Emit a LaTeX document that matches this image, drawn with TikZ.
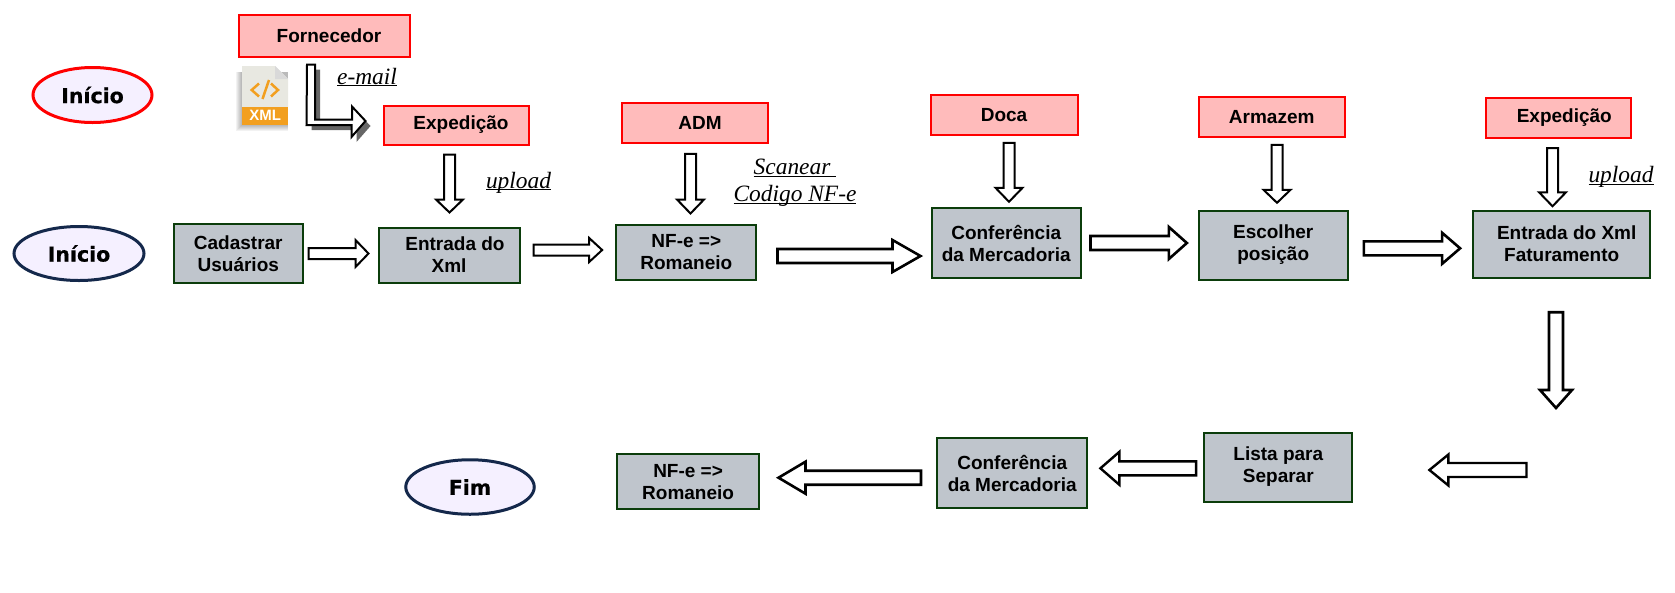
\documentclass[tikz,border=0pt]{standalone}
\usepackage{fontspec}
\setmainfont{Liberation Sans}
\newfontfamily\serifa{Liberation Serif}
\newfontfamily\largafonte[FakeBold=0.6]{DejaVu Sans Bold}
\usetikzlibrary{calc,shapes.geometric,shadows}
\definecolor{rosa}{HTML}{FFBBBB}
\definecolor{cinza}{HTML}{BFC5CC}
\definecolor{verdeborda}{HTML}{0B3D0B}
\definecolor{lilas}{HTML}{F5F0FF}
\definecolor{marinho}{HTML}{14284B}
\definecolor{laranja}{HTML}{F29F1F}
\definecolor{folha}{HTML}{E8E8E1}
\tikzset{
   setor/.style 2 args={draw=red, fill=rosa, line width=2pt, inner sep=0pt, align=center,
      minimum width=#1pt, minimum height=#2pt,
      font=\bfseries\fontsize{19}{22}\selectfont},
   etapa/.style 2 args={draw=verdeborda, fill=cinza, line width=2pt, inner sep=0pt, align=center,
      minimum width=#1pt, minimum height=#2pt,
      font=\bfseries\fontsize{19}{22}\selectfont},
   marco/.style 2 args={ellipse, draw=marinho, fill=lilas, line width=3pt, inner sep=0pt,
      minimum width=#1pt, minimum height=#2pt,
      font=\largafonte\fontsize{20.5}{24}\selectfont},
   rotulo/.style={inner sep=0pt, align=center,
      font=\serifa\itshape\fontsize{23.4}{26.7}\selectfont},
   seta/.style n args={3}{draw=black, fill=white, line width=2pt, to path={
      let \p1=(\tikztostart), \p2=(\tikztotarget),
          \n1={atan2(\y2-\y1,\x2-\x1)}, \n2={veclen(\x2-\x1,\y2-\y1)-#3pt} in
      ($(\p1)+(\n1+90:#1pt)$) -- ++(\n1:\n2) -- ++(\n1+90:#2pt-#1pt) -- (\p2)
      -- ($(\p2)+(\n1+180:#3pt)+(\n1-90:#2pt)$) -- ++(\n1+90:#2pt-#1pt)
      -- ($(\p1)+(\n1-90:#1pt)$) -- cycle}},
   setacurva/.style={draw=black, fill=white, line width=2pt,
      drop shadow={shadow xshift=5pt, shadow yshift=-5pt, fill=black!60, opacity=1}}
}
\begin{document}
\begin{tikzpicture}[x=1pt, y=-1pt]
   \useasboundingbox (0,0) rectangle (1675,592);

   \node[marco={119}{55}, draw=red] (ini1) at (92.5,95) {Início};
   \node[marco={130}{54}] (ini2) at (79,253.5) {Início};
   \node[marco={128.5}{54.5}] (fim) at (470,487) {Fim};

   \node[setor={171}{42}] (forn) at (324,35.5) {\hspace*{10pt}Fornecedor};
   \node[setor={145}{39}] (exp1) at (456,125) {\hspace*{10pt}Expedição};
   \node[setor={146}{39.6}] (adm) at (695,123) {\hspace*{10pt}ADM};
   \node[setor={147}{39.6}] (doca) at (1004,115) {Doca};
   \node[setor={146}{39.6}] (arm) at (1271.7,117) {Armazem};
   \node[setor={145}{39.6}] (exp2) at (1558.8,118) {\hspace*{11pt}Expedição};

   \node[etapa={128.4}{58.6}] (cad) at (238.3,253.5) {Cadastrar\\Usuários};
   \node[etapa={141}{55}] (ent1) at (449,255) {\hspace*{12pt}Entrada do\\Xml};
   \node[etapa={140.3}{55}] (nf1) at (686.3,252) {NF-e =>\\Romaneio};
   \node[etapa={149.4}{69.6}] (conf1) at (1006.2,243) {Conferência\\da Mercadoria};
   \node[etapa={148.7}{69}] (esc) at (1273.2,245) {Escolher\\posição};
   \node[etapa={177.2}{67.3}] (ent2) at (1561.7,244.2) {\hspace*{10pt}Entrada do Xml\\Faturamento};
   \node[etapa={148.3}{69}] (lista) at (1278.3,467) {Lista para\\Separar};
   \node[etapa={150}{69.6}] (conf2) at (1012.2,473) {Conferência\\da Mercadoria};
   \node[etapa={141.4}{55.3}] (nf2) at (688.1,481.8) {NF-e =>\\Romaneio};

   \node[rotulo, anchor=base] (email) at (367,84) {\underline{\smash{e-mail}}};
   \node[rotulo, anchor=base] (up1) at (518.5,188) {\underline{\smash{upload}}};
   \node[rotulo] (scan) at (795,189) {\underline{\smash{Scanear\ }}\\\underline{\smash{Codigo NF-e}}};
   \node[rotulo, anchor=base] (up2) at (1621,182.5) {\underline{\smash{upload}}};

   \coordinate (desce) at (1556,408);
   \coordinate (voltaini) at (1526.5,470);
   \coordinate (voltafim) at (1429.4,470);

   \draw[seta={5.5}{13.5}{13}] ([xshift=5pt]cad.east) to ([xshift=-9pt]cad.east -| ent1.west);
   \draw[seta={5.5}{12}{13}] ([xshift=13pt,yshift=5pt]ent1.east) to ([xshift=-13pt,yshift=5pt]ent1.east -| nf1.west);
   \draw[seta={7}{16}{28}, line width=2.6pt] ([xshift=20pt,yshift=-4pt]nf1.east) to ([xshift=-10pt,yshift=-4pt]nf1.east -| conf1.west);
   \draw[seta={7}{16}{18}, line width=2.6pt] ([xshift=8.6pt]conf1.east) to ([xshift=-11pt]conf1.east -| esc.west);
   \draw[seta={7}{15.5}{18}, line width=2.6pt] ([xshift=15.3pt,yshift=-3.3pt]esc.east) to ([xshift=-12pt,yshift=-3.3pt]esc.east -| ent2.west);

   \draw[seta={5.5}{13.5}{13}] ([xshift=-6.5pt,yshift=-9pt]exp1.south) to ([xshift=-6.5pt,yshift=14pt]exp1.south |- ent1.north);
   \draw[seta={5.5}{13.5}{14}] ([xshift=-4.5pt,yshift=-10pt]adm.south) to ([xshift=-4.5pt,yshift=10pt]adm.south |- nf1.north);
   \draw[seta={5.5}{13.5}{14}] ([xshift=5pt,yshift=-7pt]doca.south) to ([xshift=5pt,yshift=5.4pt]doca.south |- conf1.north);
   \draw[seta={5.5}{13.5}{13}] ([xshift=5.3pt,yshift=-7pt]arm.south) to ([xshift=5.3pt,yshift=6.7pt]arm.south |- esc.north);
   \draw[seta={5.5}{13.5}{14}] ([xshift=-6.3pt,yshift=-9.4pt]exp2.south) to ([xshift=-6.3pt,yshift=3.3pt]exp2.south |- ent2.north);
   \draw[seta={7}{16}{18}, line width=2.6pt] ([xshift=-5.7pt,yshift=-33.4pt]ent2.south) to (desce);

   \draw[seta={7}{15.5}{19}, line width=2.4pt] (voltaini) to (voltafim);
   \draw[seta={7}{16.5}{19}, line width=2.4pt] ([xshift=-7pt,yshift=-1.3pt]lista.west) to ([xshift=12.2pt,yshift=-1.3pt]lista.west -| conf2.east);
   \draw[seta={7}{16}{27}, line width=2.6pt] ([xshift=-15.2pt,yshift=-4.7pt]conf2.west) to ([xshift=18.7pt,yshift=-4.7pt]conf2.west -| nf2.east);

   \draw[setacurva] ([xshift=-17pt,yshift=-7pt]forn.south) -- ++(8,0) -- ++(0,55) -- ++(37,0) -- ++(0,-13)
      -- ([xshift=-17pt,yshift=4pt]exp1.west) -- ++(-14,16) -- ++(0,-12) -- ++(-45,0) -- cycle;

   \foreach \d in {1,...,6}
      \fill[black, opacity=.05] (242-\d,72) rectangle (288,125+\d);
   \fill[folha] (242,66) -- (275,66) -- (288,79) -- (288,107) -- (242,107) -- cycle;
   \fill[black!15] (275,66) -- (288,79) -- (275,79) -- cycle;
   \fill[laranja] (242,107) rectangle (288,125);
   \draw[laranja, line width=2.5pt] (259,83.5) -- (251.7,90) -- (259,96.5);
   \draw[laranja, line width=2.5pt] (262.5,99) -- (269,80);
   \draw[laranja, line width=2.5pt] (271,83.5) -- (278,90) -- (271,96.5);
   \node[inner sep=0pt, text=white, font=\bfseries\fontsize{15}{16}\selectfont] (xml) at (265.3,115.7) {XML};
\end{tikzpicture}
\end{document}
